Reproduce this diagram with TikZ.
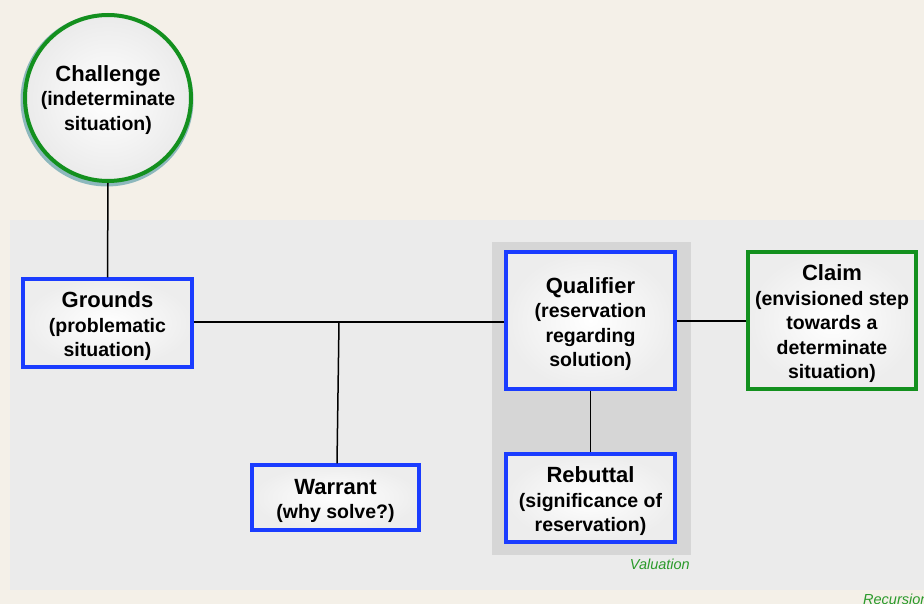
\documentclass[tikz,border=0pt]{standalone}
\usepackage{fontspec}
\setmainfont{Liberation Sans}
\definecolor{bgbeige}{HTML}{F4F0E8}
\definecolor{panelgray}{HTML}{EBEBEB}
\definecolor{valgray}{HTML}{D6D6D6}
\definecolor{boxblue}{HTML}{1A3CFF}
\definecolor{boxgreen}{HTML}{13901E}
\definecolor{labgreen}{HTML}{2A9A2A}
\definecolor{shadteal}{HTML}{3A8A9A}
\newcommand{\ttl}[1]{{\fontsize{22}{24.5}\selectfont #1}}
\begin{document}
\begin{tikzpicture}[x=1pt,y=-1pt,
  txt/.style={font=\fontsize{19.5}{24.5}\selectfont\bfseries, align=center, text=black, inner sep=0pt, yshift=-3.5pt},
  bluebox/.style={draw=boxblue, line width=3.2pt, inner color=white, outer color=gray!14, rectangle, inner sep=0pt},
  greenbox/.style={bluebox, draw=boxgreen},
  conn/.style={draw=black, line width=1.5pt},
  lab/.style={font=\fontsize{14.5}{16}\selectfont\itshape, text=labgreen, inner sep=0pt}
]
\useasboundingbox (0,0) rectangle (924,604);
\fill[bgbeige] (0,0) rectangle (924,604);
\fill[panelgray] (10,220) rectangle (924,590);
\fill[valgray] (492,242) rectangle (691,555);

% challenge shadow
\fill[shadteal, opacity=0.55] (107,100) circle (86.5);
\node[circle, draw=boxgreen, line width=4pt, inner color=white, outer color=gray!16, minimum size=166pt, inner sep=0pt,
  label={[txt, yshift=1.5pt]center:{\ttl{Challenge}\\(indeterminate\\situation)}}] (challenge) at (108,98) {};

\node[bluebox, minimum width=169pt, minimum height=88pt,
  label={[txt]center:{\ttl{Grounds}\\(problematic\\situation)}}] (grounds) at (107.5,323) {};
\node[bluebox, minimum width=167pt, minimum height=65pt,
  label={[txt]center:{\ttl{Warrant}\\(why solve?)}}] (warrant) at (335.5,497.5) {};
\node[bluebox, minimum width=169pt, minimum height=137pt,
  label={[txt]center:{\ttl{Qualifier}\\(reservation\\regarding\\solution)}}] (qualifier) at (590.5,320.5) {};
\node[bluebox, minimum width=169pt, minimum height=88pt,
  label={[txt]center:{\ttl{Rebuttal}\\(significance of\\reservation)}}] (rebuttal) at (590.5,498) {};
\node[greenbox, minimum width=168pt, minimum height=137pt,
  label={[txt]center:{\ttl{Claim}\\(envisioned step\\towards a\\determinate\\situation)}}] (claim) at (832,320.5) {};

\coordinate (wj) at (339,322);
\path[conn] (challenge.south) -- (grounds.north);
\path[conn] (grounds.east |- wj) -- (qualifier.west |- wj);
\path[conn] (wj) -- (warrant.north -| 337,0);
\path[conn] (qualifier.east |- 0,321) -- (claim.west |- 0,321);
\path[conn] (qualifier.south) -- (rebuttal.north);

\node[lab, anchor=base east] (val) at (690,569) {Valuation};
\node[lab, anchor=base west] (rec) at (863,604) {Recursion};
\end{tikzpicture}
\end{document}
